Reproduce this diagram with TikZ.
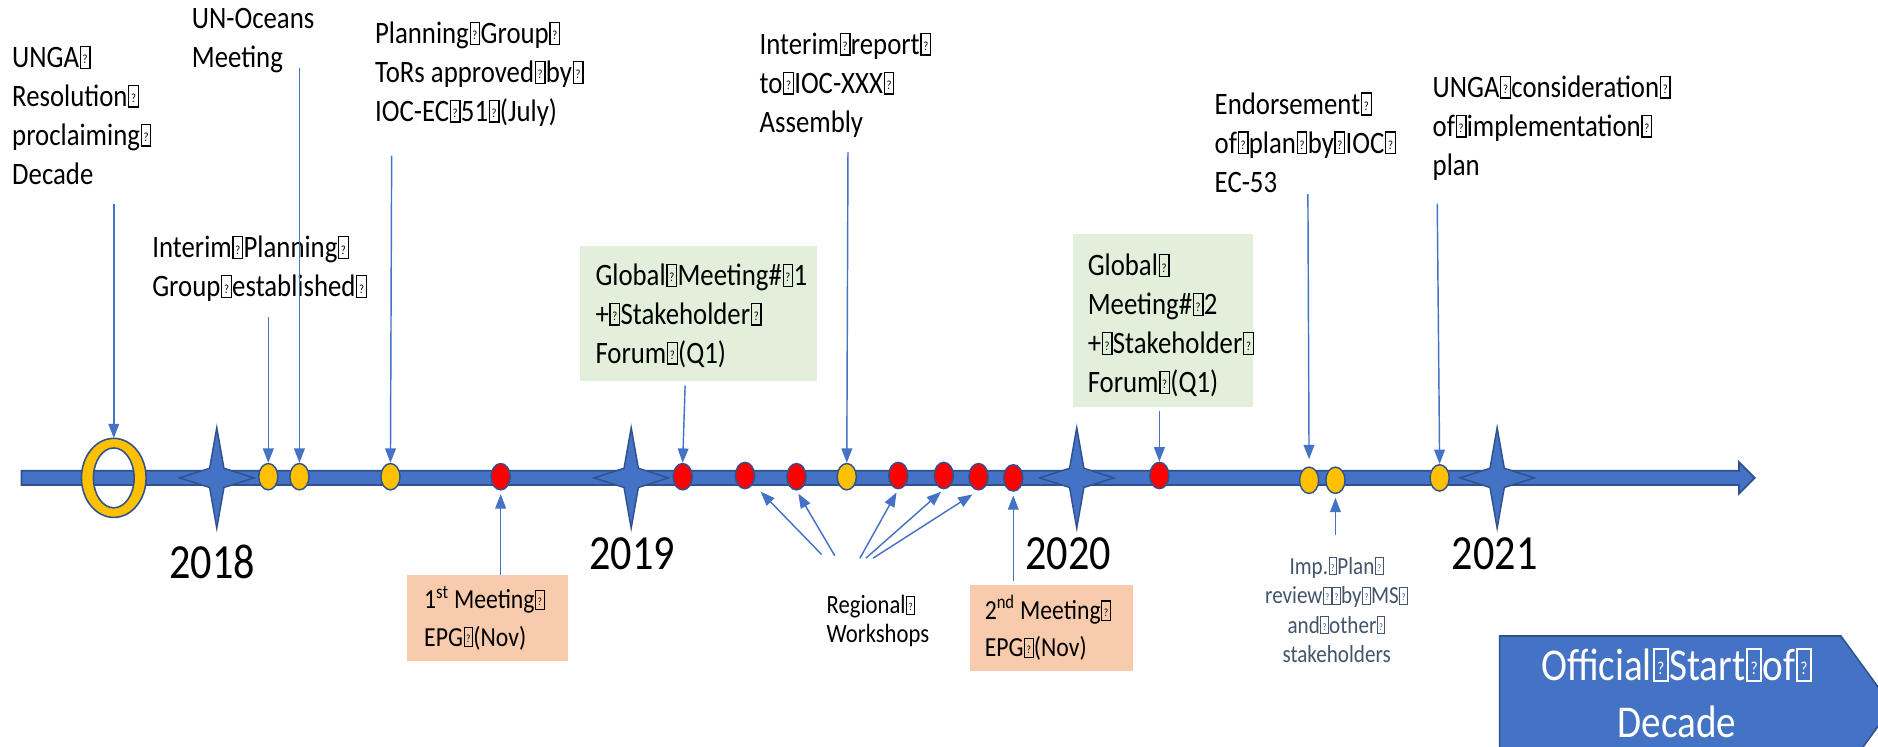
\documentclass[tikz,border=0pt]{standalone}
\usepackage{fontspec}
\setmainfont{Carlito}[FakeStretch=0.86]
\usetikzlibrary{arrows.meta,shapes.geometric}
\definecolor{barblue}{HTML}{4472C4}
\definecolor{edgeblue}{HTML}{2F528F}
\definecolor{dotyellow}{HTML}{FFC000}
\definecolor{dotred}{HTML}{FF0000}
\definecolor{greenfill}{HTML}{E2EFDA}
\definecolor{peachfill}{HTML}{F8CBAD}
\definecolor{greytext}{HTML}{44546A}
\newcommand\qb{\kern.02em{\setlength\fboxsep{0pt}\setlength\fboxrule{.04em}\fbox{\makebox[.27em]{\rule{0pt}{.66em}\raisebox{.12em}{\scalebox{.4}{?}}}}}\kern.01em}
\tikzset{
  arr/.style={draw=barblue, line width=1.2pt, -{Triangle[length=12pt,width=9pt]}},
  dotY/.style={ellipse, draw=edgeblue, line width=1.2pt, fill=dotyellow, minimum width=16pt, minimum height=22pt, inner sep=0pt},
  dotR/.style={dotY, fill=dotred},
  starsty/.style={fill=barblue, draw=edgeblue, line width=1.2pt, line join=miter},
  lbl/.style={anchor=north west, inner sep=0pt, align=left, font=\fontsize{26}{32.5}\selectfont},
  small/.style={anchor=north west, inner sep=0pt, align=left, font=\fontsize{22}{24}\selectfont},
  grey/.style={anchor=north, inner sep=0pt, align=center, text=greytext, font=\fontsize{20.5}{24.5}\selectfont},
  peach/.style={anchor=north west, inner sep=0pt, align=left, font=\fontsize{23}{31}\selectfont},
  gbox/.style={fill=greenfill, anchor=north west, inner sep=0pt},
  pbox/.style={fill=peachfill, anchor=north west, inner sep=0pt},
  year/.style={inner sep=0pt, font=\fontsize{41}{41}\selectfont},
  yearstar/.pic={\path[starsty] (0,-42) -- (6,-8) -- (31,0) -- (6,8) -- (0,42) -- (-6,8) -- (-31,0) -- (-6,-8) -- cycle;}
}
\begin{document}
\begin{tikzpicture}[x=1pt,y=-1pt]
\useasboundingbox (0,0) rectangle (1568,623);
\clip (0,0) rectangle (1568,623);
\fill[white] (0,0) rectangle (1568,623);

% timeline bar
\path[fill=barblue, draw=edgeblue, line width=1.5pt, line join=miter]
  (18,393) -- (1452,393) -- (1452,386) -- (1465,399) -- (1452,412) -- (1452,405) -- (18,405) -- cycle;

% year stars
\pic at (181,399) {yearstar};
\pic at (527,399) {yearstar};
\pic at (899,399) {yearstar};
\pic at (1250,399) {yearstar};

% ring
\node[ellipse, minimum width=54pt, minimum height=66pt, inner sep=0pt] (ring) at (95,399) {};
\path[fill=dotyellow, draw=edgeblue, line width=1.3pt, even odd rule]
  (95,399) ellipse [x radius=27, y radius=33]
  (95,399) ellipse [x radius=17, y radius=25];

% dots
\node[dotY] (d1) at (224,398) {};
\node[dotY] (d2) at (250,398) {};
\node[dotY] (d3) at (326,398) {};
\node[dotR] (d4) at (418,398) {};
\node[dotR] (d5) at (570,398) {};
\node[dotR] (d6) at (622,397) {};
\node[dotR] (d7) at (665,398) {};
\node[dotY] (d8) at (707,398) {};
\node[dotR] (d9) at (750,397) {};
\node[dotR] (d10) at (788,397) {};
\node[dotR] (d11) at (817,398) {};
\node[dotR] (d12) at (846,399) {};
\node[dotR] (d13) at (968,397) {};
\node[dotY] (d14) at (1093,401) {};
\node[dotY] (d15) at (1115,401) {};
\node[dotY] (d16) at (1202,399) {};

% years
\node[year] (y18) at (177,469) {2018};
\node[year] (y19) at (528,462) {2019};
\node[year] (y20) at (892,462) {2020};
\node[year] (y21) at (1248,462) {2021};

% top labels
\node[lbl] (l1) at (10,38) {UNGA\qb\\Resolution\qb\\proclaiming\qb\\Decade};
\node[lbl] (l2) at (160,7) {UN-Oceans\\Meeting};
\node[lbl] (l3) at (127,197) {Interim\qb Planning\qb\\Group\qb established\qb};
\node[lbl] (l4) at (313,18) {Planning\qb Group\qb\\ToRs approved\qb by\qb\\IOC-EC\qb 51\qb (July)};
\node[lbl] (l5) at (634,27) {Interim\qb report\qb\\to\qb IOC-XXX\qb\\Assembly};
\node[lbl] (l6) at (1014,77) {Endorsement\qb\\of\qb plan\qb by\qb IOC\qb\\EC-53};
\node[lbl] (l7) at (1196,63) {UNGA\qb consideration\qb\\of\qb implementation\qb\\plan};

% green boxes
\node[gbox, minimum width=198pt, minimum height=113pt] (g1) at (484,205) {};
\node[lbl] (g1t) at (497,220) {Global\qb Meeting\#\qb 1\\+\qb Stakeholder\qb\\Forum\qb (Q1)};
\node[gbox, minimum width=150pt, minimum height=145pt] (g2) at (896,195) {};
\node[lbl] (g2t) at (908,212) {Global\qb\\Meeting\#\qb 2\\+\qb Stakeholder\qb\\Forum\qb (Q1)};

% peach boxes
\node[pbox, minimum width=134pt, minimum height=72pt] (p1) at (340,480) {};
\node[peach] (p1t) at (354,489) {1\textsuperscript{st} Meeting\qb\\EPG\qb (Nov)};
\node[pbox, minimum width=136pt, minimum height=72pt] (p2) at (810,488) {};
\node[peach] (p2t) at (822,497) {2\textsuperscript{nd} Meeting\qb\\EPG\qb (Nov)};

% bottom labels
\node[small] (rw) at (690,497) {Regional\qb\\Workshops};
\node[grey] (imp) at (1116,465) {Imp.\qb Plan\qb\\review\qb\qb by\qb MS\qb\\and\qb other\qb\\stakeholders};

% official start
\path[fill=barblue, draw=edgeblue, line width=1.3pt]
  (1252,531) -- (1537,531) -- (1580,590) -- (1537,649) -- (1252,649) -- cycle;
\node[anchor=north, inner sep=0pt, align=center, text=white, font=\fontsize{38}{48}\selectfont] (off) at (1400,541) {Official\qb Start\qb of\qb\\Decade};

% arrow tails
\coordinate (t1) at (95,170);
\coordinate (t2) at (250,57);
\coordinate (t3) at (224,265);
\coordinate (t4) at (327,130);
\coordinate (t5) at (572,322);
\coordinate (t6) at (708,127);
\coordinate (t7) at (968,343);
\coordinate (t8) at (1092,162);
\coordinate (t9) at (1200,170);
\coordinate (b1) at (418,480);
\coordinate (b2) at (846,485);
\coordinate (b3) at (1115,447);
\coordinate (r1) at (686,463);
\coordinate (r2) at (697,464);
\coordinate (r3) at (718,466);
\coordinate (r4) at (723,466);
\coordinate (r5) at (729,466);

% arrows down
\draw[arr] (t1) -- (ring.north);
\draw[arr] (t2) -- (d2.north);
\draw[arr] (t3) -- (d1.north);
\draw[arr] (t4) -- (d3.north);
\draw[arr] (t5) -- (d5.north);
\draw[arr] (t6) -- (d8.north);
\draw[arr] (t7) -- (d13.north);
\draw[arr, shorten >=6pt] (t8) -- (d14.north);
\draw[arr] (t9) -- (d16.north);
% arrows up
\draw[arr, shorten >=3pt] (b1) -- (d4.south);
\draw[arr, shorten >=3pt] (b2) -- (d12.south);
\draw[arr, shorten >=3pt] (b3) -- (d15.south);
\draw[arr, shorten >=9pt] (r1) -- (d6);
\draw[arr, shorten >=3pt] (r2) -- (d7.south);
\draw[arr, shorten >=3pt] (r3) -- (d9.south);
\draw[arr, shorten >=3pt] (r4) -- (d10.south);
\draw[arr, shorten >=6pt] (r5) -- (d11.south);
\end{tikzpicture}
\end{document}
